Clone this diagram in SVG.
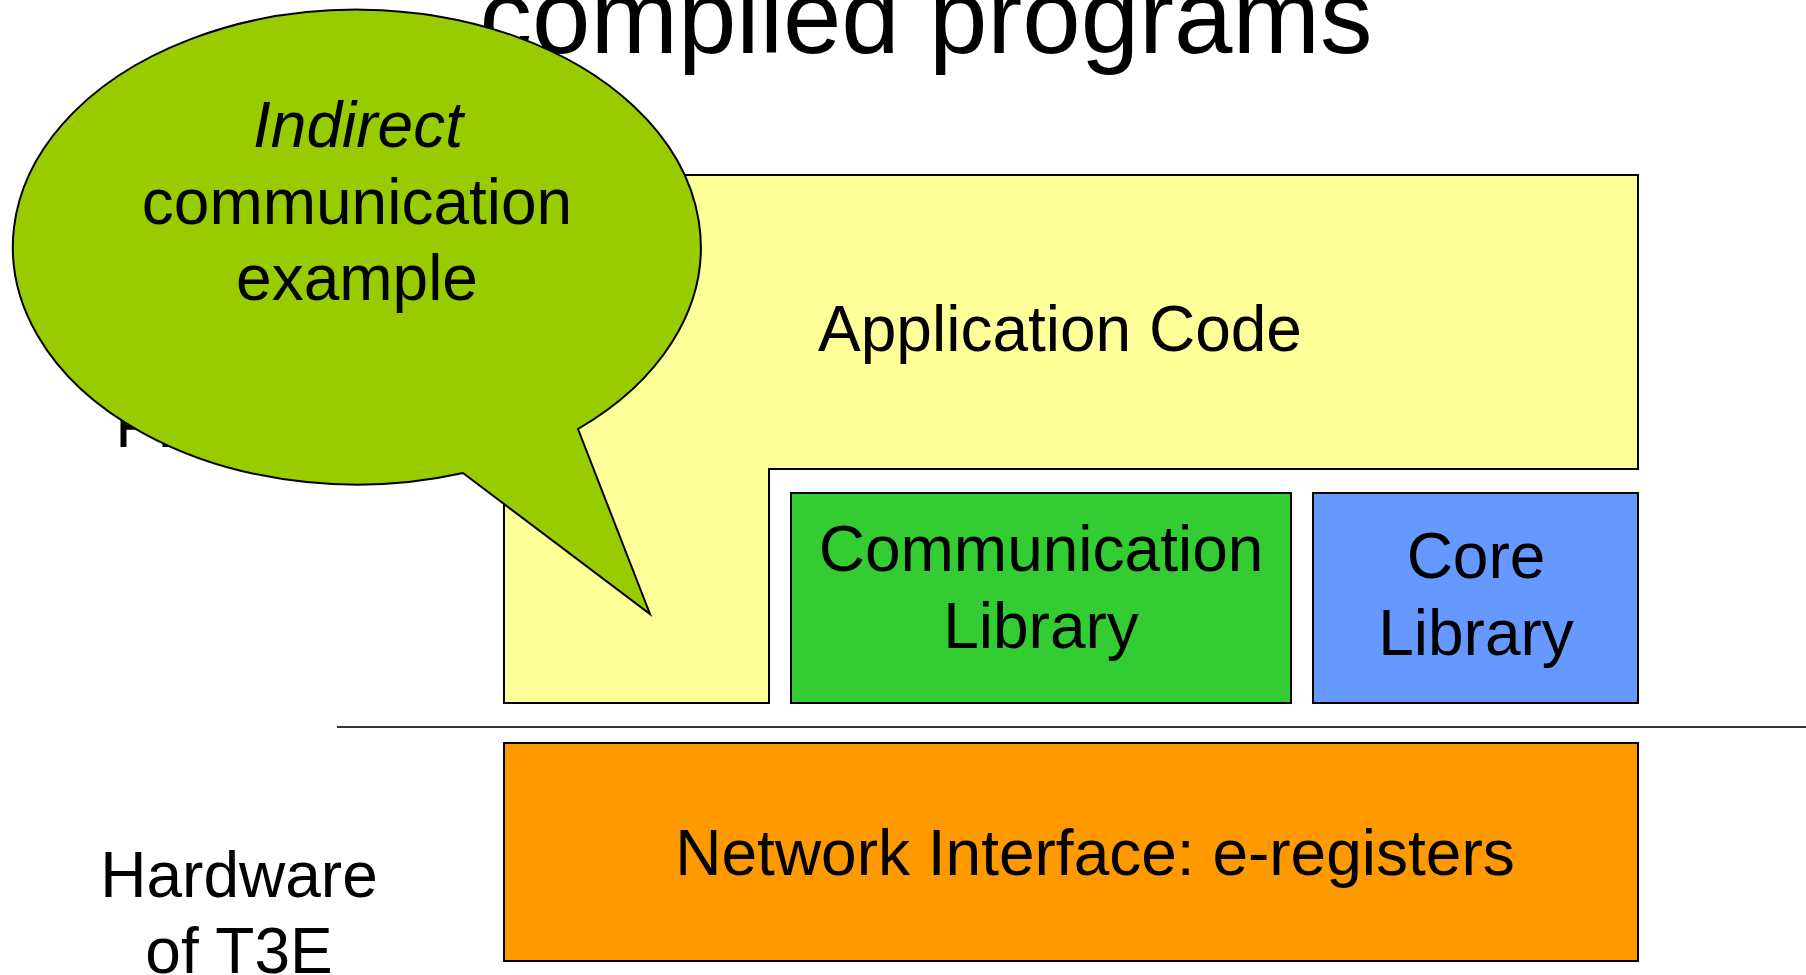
<svg xmlns="http://www.w3.org/2000/svg" width="1806" height="975" viewBox="0 0 1806 975">
<style>
text{font-family:"Liberation Sans",Arial,sans-serif;fill:#000;text-anchor:middle}
.t64{font-size:64px}
.box{stroke:#000;stroke-width:2}
</style>
<rect width="1806" height="975" fill="#fff"/>
<g id="title"><text x="926" y="53" style="font-size:105px">compiled programs</text></g>
<g id="label-program"><text class="t64" x="238" y="447">Program</text></g>
<g id="label-hardware"><text class="t64" x="239" y="897">Hardware</text><text class="t64" x="239" y="973">of T3E</text></g>
<g id="separator"><line x1="337" y1="727" x2="1806" y2="727" stroke="#333" stroke-width="2"/></g>
<g id="app-code"><path class="box" d="M504 175 L1638 175 L1638 469 L769 469 L769 703 L504 703 Z" fill="#FFFF99"/><text class="t64" x="1060" y="351">Application Code</text></g>
<g id="comm-lib"><rect class="box" x="791" y="493" width="500" height="210" fill="#33CC33"/><text class="t64" x="1041" y="571">Communication</text><text class="t64" x="1041" y="648">Library</text></g>
<g id="core-lib"><rect class="box" x="1313" y="493" width="325" height="210" fill="#6699FF"/><text class="t64" x="1476" y="578">Core</text><text class="t64" x="1476" y="655">Library</text></g>
<g id="network"><rect class="box" x="504" y="743" width="1134" height="218" fill="#FF9900"/><text class="t64" x="1095" y="875">Network Interface: e-registers</text></g>
<g id="callout"><path class="box" d="M578 429 L650 614 L463 473 A344 237.5 0 1 1 578 429 Z" fill="#99CC00"/><text class="t64" x="358" y="147" font-style="italic">Indirect</text><text class="t64" x="357" y="224">communication</text><text class="t64" x="357" y="300">example</text></g>
<g id="connectors"></g>
</svg>
